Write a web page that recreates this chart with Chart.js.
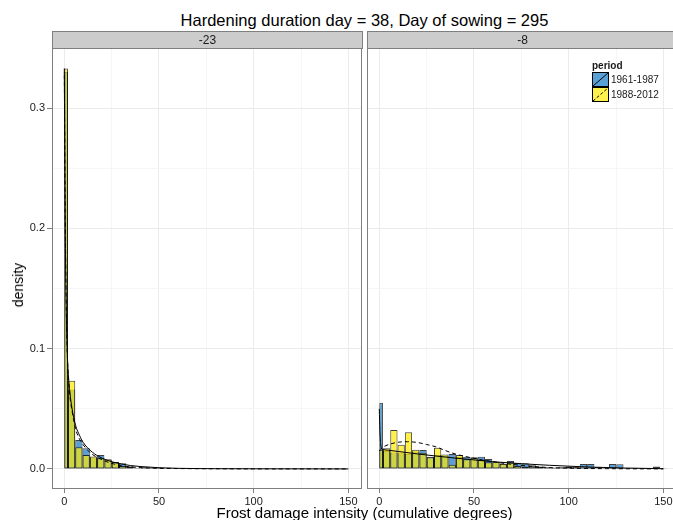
<!DOCTYPE html>
<html>
<head>
<meta charset="utf-8">
<title>Frost damage intensity</title>
<script src="https://cdn.jsdelivr.net/npm/chart.js@4.4.1/dist/chart.umd.min.js"></script>
<style>
  html, body { margin: 0; padding: 0; background: #fff; overflow: hidden; }
  #plot { position: relative; width: 673px; height: 520px; overflow: hidden; font-family: 'Liberation Sans', Arial, sans-serif; color: #000; }
  #plot canvas { position: absolute; top: 38px; }
  .strip { position: absolute; top: 31px; height: 18px; box-sizing: border-box; background: #cccccc; border: 1px solid #7f7f7f; font-size: 12px; line-height: 16px; text-align: center; color: #1a1a1a; }
  #title { position: absolute; left: 0; width: 729px; top: 10px; text-align: center; font-size: 16.5px; line-height: 20px; }
  #xtitle { position: absolute; left: 0; width: 729px; top: 504px; text-align: center; font-size: 15px; line-height: 18px; }
  #ytitle { position: absolute; left: 18px; top: 285px; transform: translate(-50%, -50%) rotate(-90deg); font-size: 14px; white-space: nowrap; }
  #legend { position: absolute; left: 592px; top: 59px; font-size: 10px; color: #1a1a1a; }
  #legend .lg-title { font-weight: bold; height: 13px; line-height: 13px; }
  #legend .lg-row { height: 15px; display: flex; align-items: center; }
  #legend svg { display: block; margin-right: 2px; }
</style>
</head>
<body>
<div id="plot">
  <canvas id="panelA" width="366" height="482" style="left:0px"></canvas>
  <canvas id="panelB" width="330" height="482" style="left:367px"></canvas>
  <div id="title">Hardening duration day = 38, Day of sowing = 295</div>
  <div class="strip" id="stripA" style="left:52px; width:311px"></div>
  <div class="strip" id="stripB" style="left:367px; width:311px"></div>
  <div id="ytitle">density</div>
  <div id="xtitle">Frost damage intensity (cumulative degrees)</div>
  <div id="legend">
    <div class="lg-title">period</div>
    <div class="lg-row">
      <svg width="17" height="15"><rect x="0.5" y="0.5" width="16" height="14" fill="rgba(19,119,198,0.7)" stroke="#000"/><line x1="1" y1="14" x2="16" y2="1" stroke="#000" stroke-width="1"/></svg>
      <span id="lgEarly"></span>
    </div>
    <div class="lg-row">
      <svg width="17" height="15"><rect x="0.5" y="0.5" width="16" height="14" fill="rgba(255,235,0,0.7)" stroke="#000"/><line x1="1" y1="14" x2="16" y2="1" stroke="#000" stroke-width="1" stroke-dasharray="3,2"/></svg>
      <span id="lgLate"></span>
    </div>
  </div>
</div>
<script>
// ---- values ----
const panels = ['-23', '-8'];
const periods = ['1961-1987', '1988-2012'];
const xTicks = [0, 50, 100, 150];
const yTicks = [0, 0.1, 0.2, 0.3];

// histogram bins: first bin is [0, binWidth/2], the rest are binWidth wide
const binWidth = 3.85;

// panel -23
const firstBinA = [0.330, 0.333];   // 1961-1987, 1988-2012
const earlyA = [0.066, 0.024, 0.0172, 0.0095, 0.0116, 0.0075, 0.0058, 0.0047, 0.0022, 0.0007,
                0.0014, 0.0011, 0.0010, 0.0002, 0.0001, 0, 0, 0, 0, 0,
                0, 0, 0, 0, 0, 0, 0, 0, 0, 0,
                0, 0, 0, 0, 0, 0, 0, 0, 0];
const lateA = [0.0734, 0.018, 0.0116, 0.0104, 0.0089, 0.008, 0.0055, 0.0025, 0.0018, 0.0006,
               0.0012, 0.0009, 0.0008, 0.0001, 0, 0, 0, 0, 0, 0,
               0, 0, 0, 0, 0, 0, 0, 0, 0, 0,
               0, 0, 0, 0, 0, 0, 0, 0, 0];
const densXEarlyA = [0, 0.5, 1, 1.5, 2, 3, 4, 6, 8, 10, 14, 18, 22, 26, 30, 35, 40, 50, 60, 80, 100, 150];
const densYEarlyA = [0.33, 0.2, 0.135, 0.1, 0.082, 0.063, 0.051, 0.036, 0.028, 0.022, 0.015, 0.0105, 0.0076, 0.0056, 0.0041, 0.0028, 0.002, 0.001, 0.0005, 0.0002, 0.0001, 0];
const densXLateA = [0, 0.5, 1, 1.5, 2, 3, 4, 6, 8, 10, 14, 18, 22, 26, 30, 35, 40, 50, 60, 80, 100, 150];
const densYLateA = [0.333, 0.21, 0.14, 0.1, 0.08, 0.06, 0.049, 0.033, 0.025, 0.02, 0.013, 0.0092, 0.0062, 0.0042, 0.0027, 0.0017, 0.0011, 0.0005, 0.0003, 0.0001, 0, 0];

// panel -8
const firstBinB = [0.055, 0.016];
const earlyB = [0.015, 0.0136, 0.013, 0.0125, 0.0145, 0.0158, 0.0102, 0.0116, 0.011, 0.0125,
                0.0100, 0.0102, 0.0097, 0.0102, 0.0083, 0.0055, 0.004, 0.0066, 0.0052, 0.0047,
                0.003, 0.002, 0.0014, 0.0011, 0.0014, 0.002, 0.0018, 0.004, 0.004, 0.0015,
                0.0012, 0.004, 0.0038, 0.001, 0.001, 0.0008, 0.0008, 0.002, 0.0006];
const lateB = [0.0172, 0.0324, 0.020, 0.0305, 0.016, 0.0135, 0.0098, 0.0177, 0.012, 0.0035,
               0.0116, 0.008, 0.0092, 0.0075, 0.0055, 0.006, 0.0042, 0.0055, 0.0025, 0.002,
               0.0022, 0.0015, 0.0012, 0.001, 0.0012, 0.0015, 0.001, 0.001, 0.0012, 0.0005,
               0.0005, 0.0008, 0.0008, 0.0005, 0.0004, 0.0003, 0.0003, 0.0004, 0.0002];
const densXEarlyB = [0, 0.3, 0.7, 1.2, 2, 5, 10, 20, 30, 40, 50, 60, 75, 90, 110, 130, 150];
const densYEarlyB = [0.05, 0.032, 0.021, 0.0165, 0.016, 0.0155, 0.0145, 0.0125, 0.0107, 0.009, 0.0075, 0.006, 0.0043, 0.003, 0.0016, 0.0007, 0.0002];
const densXLateB = [0, 1, 3, 6, 10, 15, 20, 25, 30, 35, 40, 50, 60, 70, 80, 90, 100, 120, 150];
const densYLateB = [0.015, 0.017, 0.019, 0.0208, 0.0222, 0.0226, 0.022, 0.0203, 0.0183, 0.0152, 0.0125, 0.0088, 0.006, 0.0038, 0.0022, 0.0011, 0.0006, 0.0002, 0];

// ---- appearance ----
const FONT = "'Liberation Sans', Arial, sans-serif";
const X_MIN = -6.5, X_MAX = 157.2;
const Y_MIN = -0.0167, Y_MAX = 0.35;
const EARLY_FILL = 'rgba(19, 119, 198, 0.7)';
const LATE_FILL = 'rgba(255, 235, 0, 0.7)';
const BAR_LINE = 'rgba(0, 0, 0, 0.75)';

function near(v, list) {
    return list.some(t => Math.abs(t - v) < 1e-9);
}

// major ticks plus the midpoints between them (ggplot minor grid)
function withMinor(list) {
    const out = [];
    list.forEach((v, i) => {
        out.push(v);
        if (i < list.length - 1) out.push((v + list[i + 1]) / 2);
    });
    return out;
}

function zip(xs, ys) {
    return xs.map((x, i) => ({ x: x, y: ys[i] }));
}

function barSet(values, centers, fill, width, order) {
    return {
        type: 'bar',
        data: zip(centers, values),
        backgroundColor: fill,
        borderColor: BAR_LINE,
        borderWidth: 1,
        borderSkipped: false,
        inflateAmount: 0,
        grouped: false,
        // bar width in pixels taken from the x scale
        barThickness: ctx => {
            const s = ctx.chart.scales.x;
            return Math.abs(s.getPixelForValue(width) - s.getPixelForValue(0));
        },
        order: order
    };
}

function densitySet(xs, ys, dash) {
    return {
        type: 'line',
        data: zip(xs, ys),
        borderColor: '#000',
        borderWidth: 1,
        borderDash: dash,
        pointRadius: 0,
        fill: false,
        cubicInterpolationMode: 'monotone',
        order: 0
    };
}

const panelBorder = {
    id: 'panelBorder',
    afterDraw(chart) {
        const { ctx, chartArea: a } = chart;
        ctx.save();
        ctx.strokeStyle = '#7f7f7f';
        ctx.lineWidth = 1;
        ctx.strokeRect(a.left + 0.5, a.top + 0.5, a.right - a.left - 1, a.bottom - a.top - 1);
        ctx.restore();
    }
};

function buildPanel(id, first, early, late, densEarly, densLate, showY, padRight) {
    const centers = early.map((_, i) => binWidth / 2 + binWidth * (i + 0.5));
    const firstCenter = [binWidth / 4];
    const xGrid = withMinor(xTicks);
    const yGrid = withMinor(yTicks);

    return new Chart(document.getElementById(id), {
        type: 'bar',
        data: {
            datasets: [
                barSet(late, centers, LATE_FILL, binWidth, 1),
                barSet([first[1]], firstCenter, LATE_FILL, binWidth / 2, 1),
                barSet(early, centers, EARLY_FILL, binWidth, 2),
                barSet([first[0]], firstCenter, EARLY_FILL, binWidth / 2, 2),
                densitySet(densEarly[0], densEarly[1], []),
                densitySet(densLate[0], densLate[1], [4, 3])
            ]
        },
        options: {
            responsive: false,
            animation: false,
            devicePixelRatio: 1,
            layout: { autoPadding: false, padding: { top: 10, right: padRight, bottom: 0, left: 0 } },
            plugins: {
                legend: { display: false },
                tooltip: { enabled: false }
            },
            scales: {
                x: {
                    type: 'linear',
                    min: X_MIN,
                    max: X_MAX,
                    offset: false,
                    afterBuildTicks: s => { s.ticks = xGrid.map(v => ({ value: v })); },
                    afterFit: s => { s.height = 31; },
                    border: { display: false },
                    grid: {
                        offset: false,
                        color: c => near(c.tick.value, xTicks) ? '#ebebeb' : '#f6f6f6',
                        tickColor: c => near(c.tick.value, xTicks) ? '#7f7f7f' : 'rgba(0,0,0,0)',
                        tickLength: 4
                    },
                    ticks: {
                        autoSkip: false,
                        maxRotation: 0,
                        padding: 2,
                        color: '#1a1a1a',
                        font: { family: FONT, size: 11 },
                        callback: v => near(v, xTicks) ? String(v) : ''
                    }
                },
                y: {
                    min: Y_MIN,
                    max: Y_MAX,
                    afterBuildTicks: s => { s.ticks = yGrid.map(v => ({ value: v })); },
                    afterFit: s => { s.width = showY ? 52 : 0; },
                    border: { display: false },
                    grid: {
                        color: c => near(c.tick.value, yTicks) ? '#ebebeb' : '#f6f6f6',
                        tickColor: c => near(c.tick.value, yTicks) ? '#7f7f7f' : 'rgba(0,0,0,0)',
                        drawTicks: showY,
                        tickLength: 5
                    },
                    ticks: {
                        display: showY,
                        autoSkip: false,
                        padding: 2,
                        color: '#1a1a1a',
                        font: { family: FONT, size: 11 },
                        callback: v => near(v, yTicks) ? v.toFixed(1) : ''
                    }
                }
            }
        },
        plugins: [panelBorder]
    });
}

document.addEventListener('DOMContentLoaded', function () {
    document.getElementById('stripA').textContent = panels[0];
    document.getElementById('stripB').textContent = panels[1];
    document.getElementById('lgEarly').textContent = periods[0];
    document.getElementById('lgLate').textContent = periods[1];

    buildPanel('panelA', firstBinA, earlyA, lateA,
        [densXEarlyA, densYEarlyA], [densXLateA, densYLateA], true, 4);
    buildPanel('panelB', firstBinB, earlyB, lateB,
        [densXEarlyB, densYEarlyB], [densXLateB, densYLateB], false, 20);
});
</script>
</body>
</html>
